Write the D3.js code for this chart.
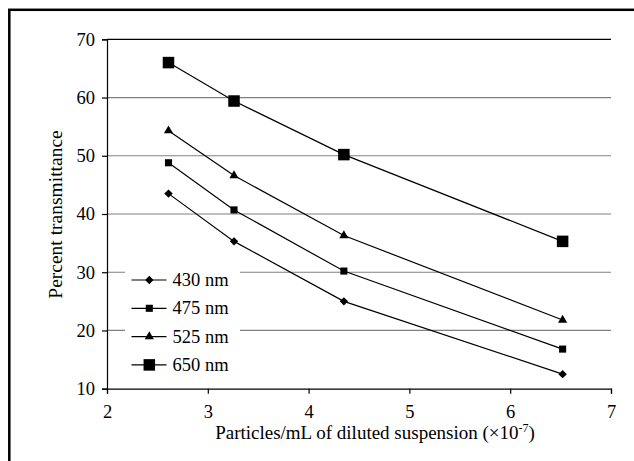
<!DOCTYPE html>
<html>
<head>
<meta charset="utf-8">
<script src="https://cdn.jsdelivr.net/npm/d3@7"></script>
<style>
  body { margin: 0; background: #fff; }
  svg text { font-family: "Liberation Serif", "Times New Roman", serif; fill: #000; }
</style>
</head>
<body>
<script>
// data
var particles = [2.61, 3.26, 4.35, 6.52];
var seriesNames = ["430 nm", "475 nm", "525 nm", "650 nm"];
var vals430 = [43.5, 35.3, 25.0, 12.5];
var vals475 = [48.8, 40.7, 30.2, 16.8];
var vals525 = [54.3, 46.6, 36.3, 21.8];
var vals650 = [66.0, 59.4, 50.2, 35.3];
var xTicks = [2, 3, 4, 5, 6, 7];
var yTicks = [10, 20, 30, 40, 50, 60, 70];

var series = [
    {name: seriesNames[0], values: vals430, shape: d3.symbolDiamond2, size: 45},
    {name: seriesNames[1], values: vals475, shape: d3.symbolSquare2, size: 64},
    {name: seriesNames[2], values: vals525, shape: d3.symbolTriangle2, size: 60},
    {name: seriesNames[3], values: vals650, shape: d3.symbolSquare2, size: 169}
];

var width = 634, height = 461;

var svg = d3.select("body").append("svg")
    .attr("width", width)
    .attr("height", height);

// frame (cut off at right and bottom)
svg.append("rect")
    .attr("x", 9.3).attr("y", 9.8)
    .attr("width", 700).attr("height", 700)
    .attr("fill", "none")
    .attr("stroke", "#000")
    .attr("stroke-width", 2.5);

var x = d3.scaleLinear().domain([2, 7]).range([107, 611]);
var y = d3.scaleLinear().domain([10, 70]).range([388.7, 39.3]);

// gridlines
svg.selectAll(".grid")
    .data(yTicks.filter(function(d){ return d > 10; }))
    .enter()
    .append("line")
    .attr("x1", x(2)).attr("x2", x(7))
    .attr("y1", function(d){ return y(d); })
    .attr("y2", function(d){ return y(d); })
    .attr("stroke", function(d){ return d == 70 ? "#000" : "#808080"; })
    .attr("stroke-width", 1.2);

// axes
var xAxis = svg.append("g")
    .attr("transform", "translate(0," + y(10) + ")")
    .call(d3.axisBottom(x).tickValues(xTicks).tickSize(5).tickPadding(11).tickFormat(d3.format("d")));
var yAxis = svg.append("g")
    .attr("transform", "translate(" + x(2) + ",0)")
    .call(d3.axisLeft(y).tickValues(yTicks).tickSize(5).tickPadding(7).tickFormat(d3.format("d")));

[xAxis, yAxis].forEach(function(a){
    a.select(".domain").attr("stroke", "#000").attr("stroke-width", 1.2);
    a.selectAll(".tick line").attr("stroke", "#000").attr("stroke-width", 1.2);
    a.selectAll(".tick text")
        .style("font-family", "'Liberation Serif', 'Times New Roman', serif")
        .style("font-size", "18.5px").attr("fill", "#000");
});

// legend background (hides gridlines)
svg.append("rect")
    .attr("x", 125).attr("y", 267)
    .attr("width", 115).attr("height", 110)
    .attr("fill", "#fff");

// series lines and markers
var line = d3.line()
    .x(function(d, i){ return x(particles[i]); })
    .y(function(d){ return y(d); });

series.forEach(function(s){
    svg.append("path")
        .datum(s.values)
        .attr("d", line)
        .attr("fill", "none")
        .attr("stroke", "#000")
        .attr("stroke-width", 1.2);

    svg.selectAll(null)
        .data(s.values)
        .enter()
        .append("path")
        .attr("d", d3.symbol().type(s.shape).size(s.size))
        .attr("transform", function(d, i){
            return "translate(" + x(particles[i]) + "," + y(d) + ")";
        })
        .attr("fill", "#000");
});

// legend
var legend = svg.selectAll(".legend")
    .data(series)
    .enter()
    .append("g")
    .attr("transform", function(d, i){ return "translate(0," + (280 + i * 28.3) + ")"; });

legend.append("line")
    .attr("x1", 131.5).attr("x2", 166.5)
    .attr("stroke", "#000").attr("stroke-width", 1.2);
legend.append("path")
    .attr("d", function(d){ return d3.symbol().type(d.shape).size(d.size)(); })
    .attr("transform", "translate(149.3,0)")
    .attr("fill", "#000");
legend.append("text")
    .attr("x", 172.5).attr("y", 6)
    .style("font-size", "18.5px")
    .text(function(d){ return d.name; });

// axis titles
svg.append("text")
    .attr("transform", "translate(62,214.5) rotate(-90)")
    .attr("text-anchor", "middle")
    .style("font-size", "19.5px")
    .text("Percent transmittance");

var xt = svg.append("text")
    .attr("x", 375).attr("y", 438.5)
    .attr("text-anchor", "middle")
    .style("font-size", "19px");
xt.append("tspan").text("Particles/mL of diluted suspension (\u00d710");
xt.append("tspan").attr("dy", -7).style("font-size", "12px").text("-7");
xt.append("tspan").attr("dy", 7).text(")");
</script>
</body>
</html>
